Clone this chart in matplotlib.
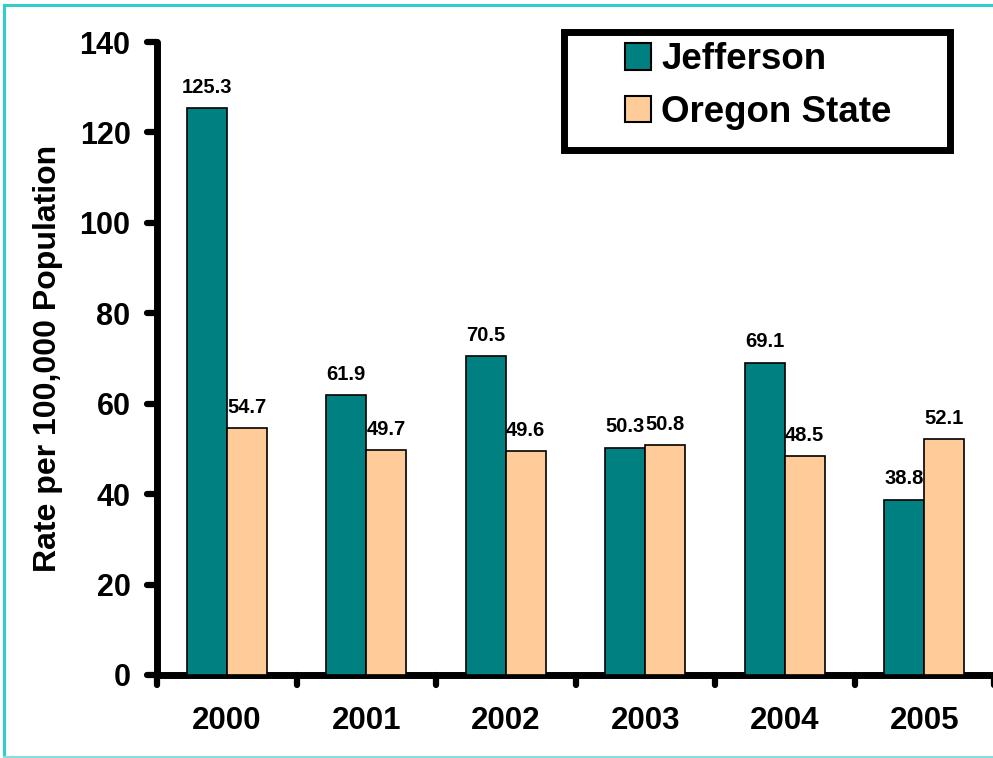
import matplotlib
matplotlib.use("Agg")
import matplotlib.pyplot as plt
import numpy as np
from matplotlib.markers import MarkerStyle
from matplotlib.patches import Rectangle
from matplotlib.lines import Line2D

years = ["2000", "2001", "2002", "2003", "2004", "2005"]
jefferson = [125.3, 61.9, 70.5, 50.3, 69.1, 38.8]
oregon = [54.7, 49.7, 49.6, 50.8, 48.5, 52.1]
series_names = ["Jefferson", "Oregon State"]
colors = ["#008080", "#FFCC99"]
yticks = [0, 20, 40, 60, 80, 100, 120, 140]

plt.rcParams['font.family'] = ['Liberation Sans', 'DejaVu Sans']
plt.rcParams['font.weight'] = 'bold'

W, H = 993, 758
fig = plt.figure(figsize=(W / 100, H / 100), dpi=100)
ax = fig.add_axes([157 / W, 83 / H, 837 / W, 633 / H])

x = np.arange(len(years))
bw = 0.286
b1 = ax.bar(x - bw / 2, jefferson, bw, color=colors[0], edgecolor='black', linewidth=1.2, label=series_names[0], zorder=3)
b2 = ax.bar(x + bw / 2, oregon, bw, color=colors[1], edgecolor='black', linewidth=1.2, label=series_names[1], zorder=3)

for bars, vals in ((b1, jefferson), (b2, oregon)):
    for rect, v in zip(bars, vals):
        ax.annotate(f"{v:.1f}", (rect.get_x() + rect.get_width() / 2, v),
                    xytext=(0, 8), textcoords='offset points', ha='center', va='bottom',
                    fontsize=14.5, fontweight='bold')

ax.set_xlim(-0.5, 5.5)
ax.set_ylim(0, 140)
ax.set_yticks(yticks)
ax.set_yticklabels([str(t) for t in yticks], fontsize=22, fontweight='bold')
ax.set_xticks(x)
ax.set_xticklabels(years, fontsize=22.5, fontweight='bold')
ax.set_xticks(np.arange(-0.5, 6.0, 1.0), minor=True)
ax.tick_params(axis='x', which='major', length=0, pad=22)
ax.tick_params(axis='x', which='minor', length=7, width=4.5, direction='out')
ax.tick_params(axis='y', which='major', length=7, width=4.5, direction='out', pad=12)

for tick in ax.yaxis.get_major_ticks():
    tick.tick1line.set_marker(MarkerStyle(matplotlib.markers.TICKLEFT, capstyle='round'))
for tick in ax.xaxis.get_minor_ticks():
    tick.tick1line.set_marker(MarkerStyle(matplotlib.markers.TICKDOWN, capstyle='round'))

for s in ['top', 'right']:
    ax.spines[s].set_visible(False)
for s in ['left', 'bottom']:
    ax.spines[s].set_linewidth(5)
    ax.spines[s].set_capstyle('round')

ax.set_ylabel("Rate per 100,000 Population", fontsize=23, fontweight='bold')
ax.yaxis.set_label_coords(-0.112, 0.5)

# legend box
fig.add_artist(Rectangle((563.5 / W, 1 - 149.5 / H), (949.5 - 563.5) / W, (149.5 - 31.5) / H,
                         transform=fig.transFigure, fill=True, facecolor='white',
                         edgecolor='black', linewidth=5, zorder=4))
leg = fig.legend(handles=[b1, b2], labels=series_names, loc='center',
                 bbox_to_anchor=(758 / W, 1 - 86 / H), frameon=False,
                 prop={'size': 26.5, 'weight': 'bold'}, handlelength=0.72, handleheight=0.72,
                 handletextpad=0.27, labelspacing=0.47, borderpad=0)
leg.set_zorder(5)
for h in leg.legend_handles:
    h.set_linewidth(1.5)

# cyan border
fig.add_artist(Line2D([4 / W, 1], [1 - 4.5 / H, 1 - 4.5 / H], transform=fig.transFigure, color='#33CCCC', linewidth=2.2))
fig.add_artist(Line2D([4 / W, 4 / W], [1 - 4.5 / H, 1.5 / H], transform=fig.transFigure, color='#33CCCC', linewidth=2.2))
fig.add_artist(Line2D([4 / W, 1], [1.5 / H, 1.5 / H], transform=fig.transFigure, color='#88DDDD', linewidth=1.5))

fig.savefig("out.png", dpi=100)
